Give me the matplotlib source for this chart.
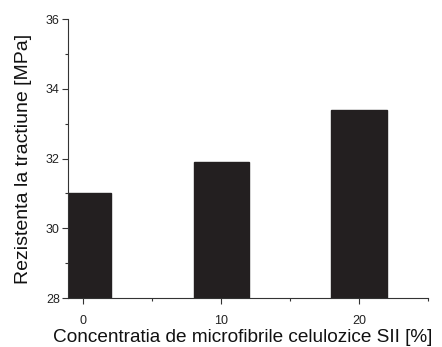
import matplotlib
matplotlib.use("Agg")
import matplotlib.pyplot as plt
from matplotlib.ticker import MultipleLocator

plt.rcParams["font.family"] = ["Liberation Sans", "DejaVu Sans"]

concentrations = [0, 10, 20]
strength = [31.0, 31.9, 33.4]

fig = plt.figure(figsize=(4.42, 3.47), dpi=100)
ax = fig.add_axes([0.154, 0.141, 0.814, 0.804])
ax.bar(concentrations, strength, width=4, color="#231f20", edgecolor="#231f20")
ax.set_xlim(-1.1, 25)
ax.set_ylim(28, 36)
ax.set_xticks(concentrations)
ax.set_yticks([28, 30, 32, 34, 36])
ax.xaxis.set_minor_locator(MultipleLocator(5))
ax.yaxis.set_minor_locator(MultipleLocator(1))
for s in ["top", "right"]:
    ax.spines[s].set_visible(False)
for s in ["left", "bottom"]:
    ax.spines[s].set_linewidth(0.8)
    ax.spines[s].set_color("#333333")
ax.tick_params(axis="both", which="major", length=4, width=0.8, labelsize=9, color="#333333", labelcolor="#222222")
ax.tick_params(axis="x", which="major", pad=8)
ax.tick_params(axis="y", which="major", pad=2)
ax.tick_params(axis="both", which="minor", length=2.5, width=0.8, color="#333333")
ax.set_xlabel("Concentratia de microfibrile celulozice SII [%]", fontsize=13.7, color="#111111")
ax.xaxis.set_label_coords(0.486, -0.112)
ax.set_ylabel("Rezistenta la tractiune [MPa]", fontsize=14, color="#111111", labelpad=10)
fig.savefig("out.png", dpi=100)
